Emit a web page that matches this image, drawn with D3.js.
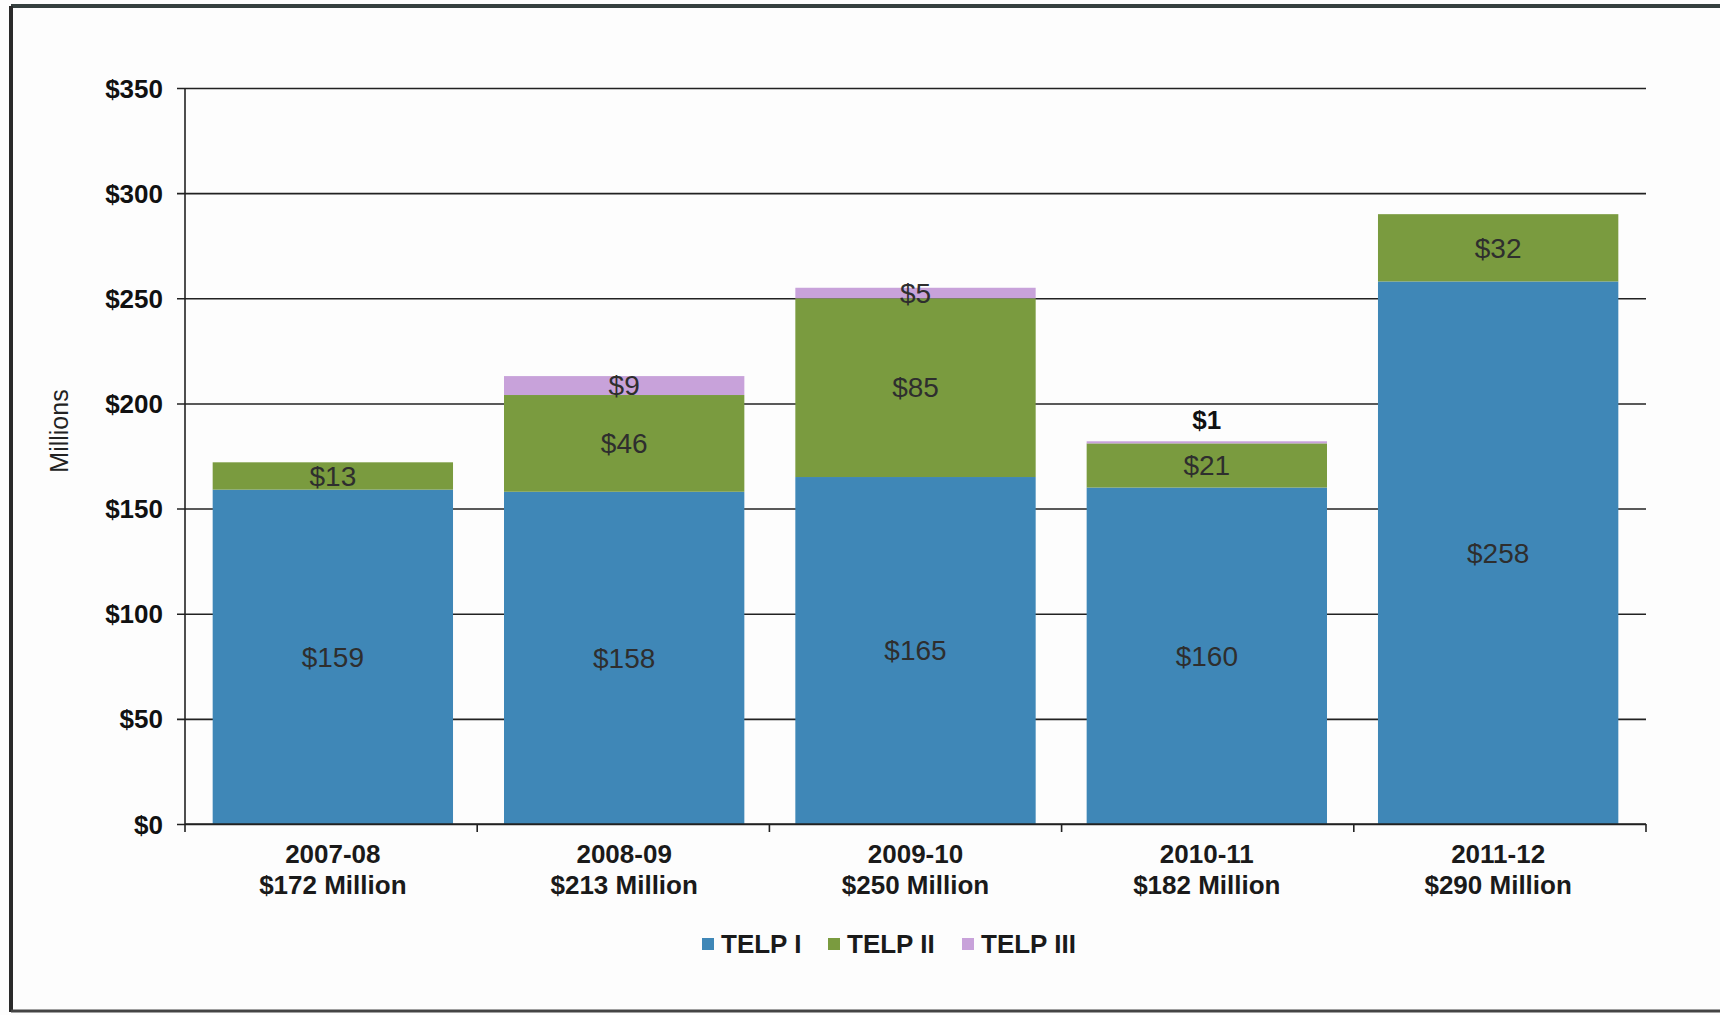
<!DOCTYPE html>
<html>
<head>
  <meta charset="utf-8">
  <script src="https://d3js.org/d3.v7.min.js"></script>
  <style>
    body { margin: 0; background: #fdfdfd; }
    svg text { font-family: "Liberation Sans", Arial, Helvetica, sans-serif; }
  </style>
</head>
<body>
  <svg id="chart" width="1720" height="1015" viewBox="0 0 1720 1015"
    xmlns="http://www.w3.org/2000/svg"></svg>
  <script>
    // data (millions of dollars)
    var years = ["2007-08", "2008-09", "2009-10", "2010-11", "2011-12"];
    var totals = ["$172 Million", "$213 Million", "$250 Million", "$182 Million", "$290 Million"];
    var series = ["TELP I", "TELP II", "TELP III"];
    var telp1 = [159, 158, 165, 160, 258];
    var telp2 = [13, 46, 85, 21, 32];
    var telp3 = [0, 9, 5, 1, 0];
    var yTicks = [0, 50, 100, 150, 200, 250, 300, 350];
    var colors = ["#3f87b7", "#7a9b3f", "#c8a2da"];

    var svg = d3.select("#chart");

    // frame of the scanned page
    svg.append("rect").attr("x", 0).attr("y", 0).attr("width", 1720).attr("height", 1015)
      .attr("fill", "#fdfdfd");
    svg.append("line").attr("x1", 11).attr("x2", 1720).attr("y1", 6).attr("y2", 6)
      .attr("stroke", "#35403f").attr("stroke-width", 4);
    svg.append("line").attr("x1", 11).attr("x2", 11).attr("y1", 6).attr("y2", 1012)
      .attr("stroke", "#2a2a2a").attr("stroke-width", 4);
    svg.append("line").attr("x1", 11).attr("x2", 1720).attr("y1", 1011).attr("y2", 1011)
      .attr("stroke", "#444").attr("stroke-width", 3);

    var pLeft = 185, pRight = 1646, pTop = 88, pBottom = 824;

    var x = d3.scaleBand().domain(years).range([pLeft, pRight])
      .paddingInner(0.175).paddingOuter(0.095);
    var y = d3.scaleLinear().domain([0, 350]).range([pBottom, pTop]);

    var rows = years.map(function(yr, i) {
      return { year: yr, total: totals[i], "TELP I": telp1[i], "TELP II": telp2[i], "TELP III": telp3[i] };
    });
    var stacked = d3.stack().keys(series)(rows);

    // gridlines with left tick
    var yAxis = d3.axisLeft(y).tickValues(yTicks)
      .tickSize(-(pRight - pLeft)).tickSizeOuter(0)
      .tickFormat(function(d) { return "$" + d; });
    var ga = svg.append("g").attr("transform", "translate(" + pLeft + ",0)").call(yAxis);
    ga.select(".domain").remove();
    ga.selectAll(".tick line").attr("stroke", "#222").attr("stroke-width", 1.6)
      .attr("x1", -8);
    ga.selectAll(".tick text").attr("x", -22).attr("dy", "0.35em")
      .attr("font-size", 26).attr("font-weight", "bold").attr("fill", "#111");

    // bars
    var layers = svg.append("g").selectAll("g").data(stacked).enter().append("g")
      .attr("fill", function(d, i) { return colors[i]; });
    layers.selectAll("rect").data(function(d) { return d; }).enter().append("rect")
      .attr("x", function(d) { return x(d.data.year); })
      .attr("width", x.bandwidth())
      .attr("y", function(d) { return y(d[1]); })
      .attr("height", function(d) { return y(d[0]) - y(d[1]); });

    // y axis line
    svg.append("line").attr("x1", pLeft).attr("x2", pLeft).attr("y1", pTop).attr("y2", pBottom)
      .attr("stroke", "#222").attr("stroke-width", 1.6);

    // x axis with ticks at category boundaries
    svg.append("line").attr("x1", pLeft).attr("x2", pRight).attr("y1", pBottom).attr("y2", pBottom)
      .attr("stroke", "#222").attr("stroke-width", 1.6);
    var bounds = d3.range(years.length + 1).map(function(i) {
      return pLeft + i * (pRight - pLeft) / years.length;
    });
    svg.append("g").selectAll("line").data(bounds).enter().append("line")
      .attr("x1", function(d) { return d; }).attr("x2", function(d) { return d; })
      .attr("y1", pBottom).attr("y2", pBottom + 8)
      .attr("stroke", "#222").attr("stroke-width", 1.6);

    // category labels
    var cx = function(d) { return x(d.year) + x.bandwidth() / 2; };
    var cat = svg.append("g").selectAll("text").data(rows).enter().append("text")
      .attr("text-anchor", "middle").attr("font-size", 26).attr("font-weight", "bold")
      .attr("fill", "#1a1a1a");
    cat.append("tspan").attr("x", cx).attr("y", 863).text(function(d) { return d.year; });
    cat.append("tspan").attr("x", cx).attr("y", 894).text(function(d) { return d.total; });

    // segment value labels
    var labels = [];
    stacked.forEach(function(layer) {
      layer.forEach(function(d) {
        var v = d[1] - d[0];
        if (v > 0) labels.push({ v: v, d: d });
      });
    });
    svg.append("g").selectAll("text").data(labels).enter().append("text")
      .attr("x", function(l) { return x(l.d.data.year) + x.bandwidth() / 2; })
      .attr("y", function(l) {
        if (l.v < 2) return y(l.d[1]) - 21;
        return y((l.d[0] + l.d[1]) / 2);
      })
      .attr("dy", "0.35em")
      .attr("text-anchor", "middle")
      .attr("font-size", function(l) { return l.v < 2 ? 26 : 28; })
      .attr("font-weight", function(l) { return l.v < 2 ? "bold" : "normal"; })
      .attr("fill", function(l) { return l.v < 2 ? "#111" : "#2e2e2e"; })
      .text(function(l) { return "$" + l.v; });

    // y axis title
    svg.append("text").attr("transform", "translate(68,431) rotate(-90)")
      .attr("text-anchor", "middle").attr("font-size", 25).attr("fill", "#222")
      .text("Millions");

    // legend
    var legX = [702, 828, 962];
    var leg = svg.append("g").selectAll("g").data(series).enter().append("g")
      .attr("transform", function(d, i) { return "translate(" + legX[i] + ",944)"; });
    leg.append("rect").attr("x", 0).attr("y", -6).attr("width", 12).attr("height", 12)
      .attr("fill", function(d, i) { return colors[i]; });
    leg.append("text").attr("x", 19).attr("dy", "0.35em").attr("font-size", 26)
      .attr("font-weight", "bold").attr("fill", "#1a1a1a")
      .text(function(d) { return d; });
  </script>
</body>
</html>
